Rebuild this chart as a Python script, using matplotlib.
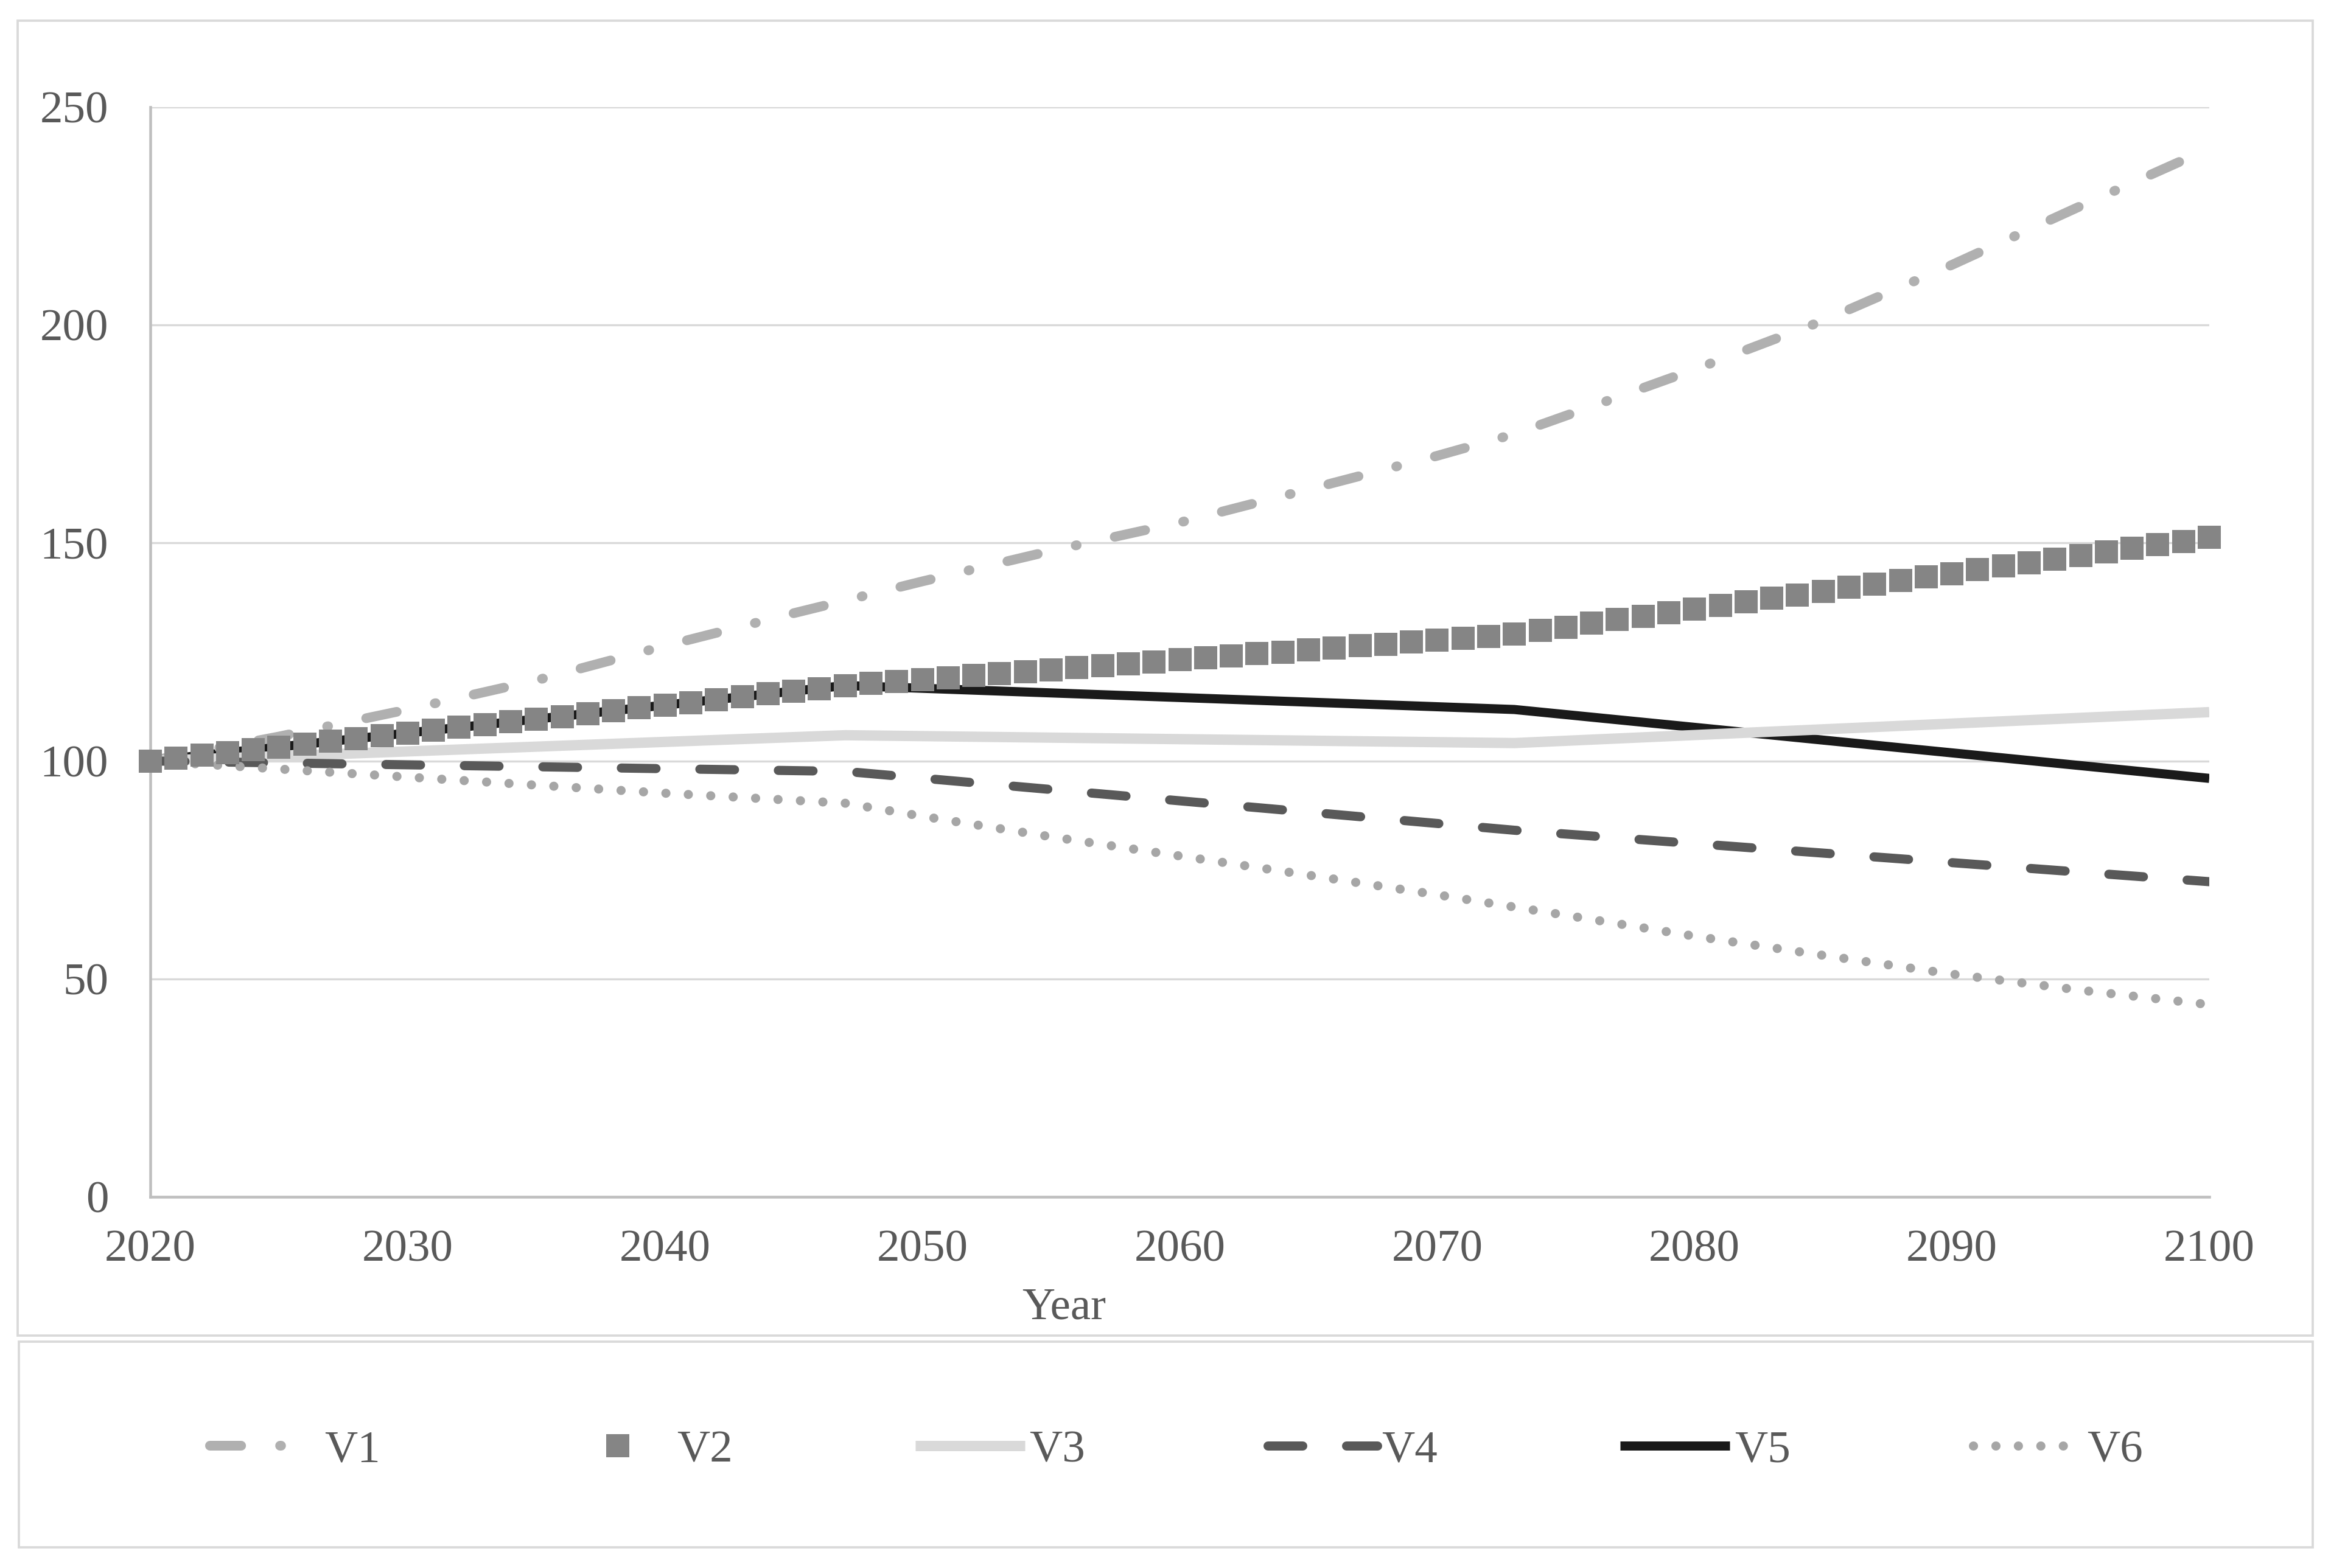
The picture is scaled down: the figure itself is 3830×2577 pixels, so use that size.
import numpy as np
import matplotlib.pyplot as plt
from matplotlib.patches import Rectangle

W, H = 3830, 2577
DPI = 300

# values
v1_years = [2020, 2025, 2030, 2035, 2040, 2045, 2047, 2050, 2055, 2060, 2065,
            2070, 2073, 2075, 2080, 2085, 2090, 2095, 2100]
v1 = [100, 105.6, 111.8, 118.5, 126.4, 133.9, 136.8, 141.2, 148.2, 154.7, 162.3,
      170.0, 175.0, 179.2, 189.8, 201.0, 213.8, 227.3, 240.5]

v2_years = list(range(2020, 2101))
v2 = [100.0, 100.6, 101.3, 101.9, 102.6, 103.2, 103.8, 104.5, 105.1, 105.8,
      106.4, 107.0, 107.7, 108.3, 109.0, 109.6, 110.2, 110.9, 111.5, 112.2,
      112.8, 113.4, 114.1, 114.7, 115.4, 116.0, 116.6, 117.3, 117.8, 118.2,
      118.7, 119.1, 119.6, 120.0, 120.5, 120.9, 121.4, 121.8, 122.3, 122.7,
      123.2, 123.7, 124.1, 124.6, 125.0, 125.5, 125.9, 126.4, 126.8, 127.3,
      127.7, 128.2, 128.6, 129.1, 129.9, 130.7, 131.6, 132.4, 133.2, 134.0,
      134.8, 135.7, 136.5, 137.3, 138.1, 138.9, 139.8, 140.6, 141.4, 142.2,
      143.0, 143.9, 144.7, 145.5, 146.3, 147.1, 148.0, 148.8, 149.6, 150.4,
      151.3]

v3_years = [2020, 2047, 2073, 2100]
v3 = [100, 105.9, 104.1, 111.2]

v4_years = [2020, 2047, 2073, 2100]
v4 = [100, 97.6, 84.1, 72.3]

v5_years = [2020, 2047, 2073, 2100]
v5 = [100, 117.3, 111.8, 96.0]

v6_years = [2020, 2030, 2040, 2047, 2050, 2055, 2060, 2065, 2070, 2075, 2080,
            2085, 2090, 2095, 2100]
v6 = [100, 96.3, 92.6, 90.3, 87.3, 82.6, 78.2, 73.8, 69.3, 64.6, 59.8,
      55.4, 51.1, 47.4, 44.1]

x_ticks = list(range(2020, 2101, 10))
y_ticks = list(range(0, 251, 50))

TEXT = '#595959'
plt.rcParams['font.family'] = ['Liberation Serif', 'DejaVu Serif']


def fx(px):
    return px / W


def fy(py):
    return 1 - py / H


def pt(px):
    return px * 72 / DPI


fig = plt.figure(figsize=(W / DPI, H / DPI), dpi=DPI)
ax = fig.add_axes([fx(247), fy(1967), fx(3630 - 247), (1967 - 176) / H])

lw1, lw3, lw4, lw5, lw6 = pt(16), pt(17), pt(15), pt(15), pt(15)
l5, = ax.plot(v5_years, v5, color='#1a1a1a', lw=lw5, solid_capstyle='butt',
              solid_joinstyle='round', zorder=3, label='V5')
l1, = ax.plot(v1_years, v1, color='#b0b0b0', lw=lw1,
              ls=(0, (3.2, 4.0, 0.1, 4.0)), dash_capstyle='round', zorder=3, label='V1')
l3, = ax.plot(v3_years, v3, color='#d9d9d9', lw=lw3, solid_capstyle='butt',
              zorder=3, label='V3')
l4, = ax.plot(v4_years, v4, color='#595959', lw=lw4,
              ls=(0, (3.8, 4.8)), dash_capstyle='round', zorder=3, label='V4')
l6, = ax.plot(v6_years, v6, color='#a6a6a6', lw=lw6,
              ls=(0, (0.01, 2.45)), dash_capstyle='round', zorder=3, label='V6')
l2, = ax.plot(v2_years, v2, ls='none', marker='s', ms=pt(37), mew=0,
              color='#858585', clip_on=False, zorder=4, label='V2')

ax.set_xlim(2020, 2100)
ax.set_ylim(0, 250)
ax.set_xticks(x_ticks)
ax.set_yticks(y_ticks)
ax.yaxis.grid(True, color='#d9d9d9', lw=0.8)
ax.set_axisbelow(True)
for s in ['top', 'right']:
    ax.spines[s].set_visible(False)
for s in ['left', 'bottom']:
    ax.spines[s].set_color('#bfbfbf')
    ax.spines[s].set_linewidth(1.1)
ax.tick_params(axis='both', length=0, labelsize=18, colors=TEXT)
ax.tick_params(axis='y', pad=16.5)
ax.tick_params(axis='x', pad=12.9)

fig.text(fx(1748), fy(2168), 'Year', ha='center', va='baseline',
         fontsize=18, color=TEXT)

# outer chart frame and legend frame
fig.patches.append(Rectangle((fx(29), fy(2195)), fx(3800 - 29), (2195 - 34) / H,
                             transform=fig.transFigure, fill=False,
                             ec='#d9d9d9', lw=0.9))
fig.patches.append(Rectangle((fx(31), fy(2543)), fx(3800 - 31), (2543 - 2205) / H,
                             transform=fig.transFigure, fill=False,
                             ec='#d9d9d9', lw=0.9))

fig.legend([l1, l2, l3, l4, l5, l6], ['V1', 'V2', 'V3', 'V4', 'V5', 'V6'],
           loc='center', bbox_to_anchor=(fx(1933), fy(2384)), ncol=6,
           frameon=False, handlelength=2.4, handletextpad=0.1,
           columnspacing=4.0, fontsize=18, labelcolor=TEXT)

fig.savefig('out.png', dpi=DPI)
